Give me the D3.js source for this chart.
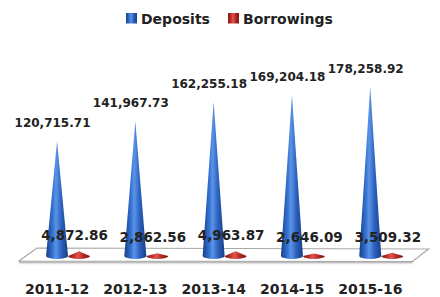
<!DOCTYPE html>
<html>
<head>
<meta charset="utf-8">
<script src="https://cdn.jsdelivr.net/npm/d3@7"></script>
<style>
    body { margin: 0; background: #fff; }
    text { font-family: "DejaVu Sans", sans-serif; font-weight: bold; fill: #222; }
</style>
</head>
<body>
<svg id="chart"></svg>
<script>
var years = ["2011-12", "2012-13", "2013-14", "2014-15", "2015-16"];
var seriesNames = ["Deposits", "Borrowings"];
var deposits = [120715.71, 141967.73, 162255.18, 169204.18, 178258.92];
var borrowings = [4872.86, 2862.56, 4963.87, 2646.09, 3509.32];

function init() {
    var w = 440;
    var h = 297;
    var baseY = 256;

    var svg = d3.select("#chart")
        .attr("width", w)
        .attr("height", h);

    var defs = svg.append("defs");

    // cone shading, left to right
    var shades = {
        Deposits: ["#173f85", "#3572d2", "#5a94e6", "#2c61bf", "#183d84"],
        Borrowings: ["#7e1612", "#c6352f", "#e0574f", "#b02924", "#7a1410"]
    };
    seriesNames.forEach(function (s) {
        var g = defs.append("linearGradient")
            .attr("id", "grad-" + s)
            .attr("x1", 0).attr("x2", 1).attr("y1", 0).attr("y2", 0);
        shades[s].forEach(function (c, i) {
            g.append("stop")
                .attr("offset", [0, 0.3, 0.45, 0.7, 1][i])
                .attr("stop-color", c);
        });
    });

    var floorShadow = defs.append("linearGradient")
        .attr("id", "floorShadow")
        .attr("x1", 0).attr("x2", 0).attr("y1", 0).attr("y2", 1);
    floorShadow.append("stop").attr("offset", 0).attr("stop-color", "#8a8a8a");
    floorShadow.append("stop").attr("offset", 1).attr("stop-color", "#fff").attr("stop-opacity", 0);

    var xScale = d3.scaleBand()
        .domain(years)
        .range([18, 409.5]);

    var xSub = d3.scaleBand()
        .domain(seriesNames)
        .range([xScale.bandwidth() * 0.358, xScale.bandwidth() * 0.92]);

    var yScale = d3.scaleLinear()
        .domain([0, 200000])
        .range([baseY, 66]);

    var fmt = d3.format(",.2f");

    // floor
    var x0 = xScale.range()[0], x1 = xScale.range()[1];
    var floorPts = [
        [x0 + 1, 261], [x1 + 3, 261.5], [x1 + 19, 249], [x0 + 19, 248]
    ];
    svg.append("rect")
        .attr("x", x0 + 1)
        .attr("y", 261.5)
        .attr("width", x1 - x0 + 2)
        .attr("height", 4)
        .attr("fill", "url(#floorShadow)");
    svg.append("polygon")
        .attr("points", floorPts.map(function (p) { return p.join(","); }).join(" "))
        .attr("fill", "#fff")
        .attr("stroke", "#a8a8a8")
        .attr("stroke-width", 1.2);

    var rows = [];
    years.forEach(function (y, i) {
        rows.push({ year: y, series: "Deposits", value: deposits[i] });
        rows.push({ year: y, series: "Borrowings", value: borrowings[i] });
    });

    function cx(d) {
        return xScale(d.year) + xSub(d.series) + xSub.bandwidth() / 2;
    }

    function cone(d) {
        var c = cx(d);
        var r = xSub.bandwidth() / 2;
        var ry = 3;
        var tip = yScale(d.value);
        return "M" + (c - r) + "," + baseY +
            "L" + c + "," + tip +
            "L" + (c + r) + "," + baseY +
            "A" + r + "," + ry + " 0 0 1 " + (c - r) + "," + baseY + "Z";
    }

    svg.selectAll("path.cone")
        .data(rows)
        .enter()
        .append("path")
        .attr("class", "cone")
        .attr("d", cone)
        .attr("fill", function (d) { return "url(#grad-" + d.series + ")"; });

    // value labels
    svg.selectAll("text.val")
        .data(rows)
        .enter()
        .append("text")
        .attr("class", "val")
        .attr("text-anchor", "middle")
        .attr("x", function (d) { return cx(d) - 4.5; })
        .attr("y", function (d) {
            return yScale(d.value) - (d.series == "Deposits" ? 14 : 11);
        })
        .style("font-size", function (d) { return d.series == "Deposits" ? "12px" : "13.5px"; })
        .text(function (d) { return fmt(d.value); });

    // category labels
    svg.selectAll("text.cat")
        .data(years)
        .enter()
        .append("text")
        .attr("class", "cat")
        .attr("text-anchor", "middle")
        .attr("x", function (d) { return xScale(d) + xScale.bandwidth() / 2; })
        .attr("y", 294)
        .style("font-size", "14px")
        .text(function (d) { return d; });

    // legend
    var legendX = [126, 228];
    var legend = svg.selectAll("g.legend")
        .data(seriesNames)
        .enter()
        .append("g")
        .attr("class", "legend")
        .attr("transform", function (d, i) { return "translate(" + legendX[i] + ",13)"; });

    legend.append("rect")
        .attr("width", 11)
        .attr("height", 10.5)
        .attr("fill", function (d) { return "url(#grad-" + d + ")"; });

    legend.append("text")
        .attr("x", 15)
        .attr("y", 10.5)
        .style("font-size", "14px")
        .text(function (d) { return d; });
}
window.onload = init;
</script>
</body>
</html>
